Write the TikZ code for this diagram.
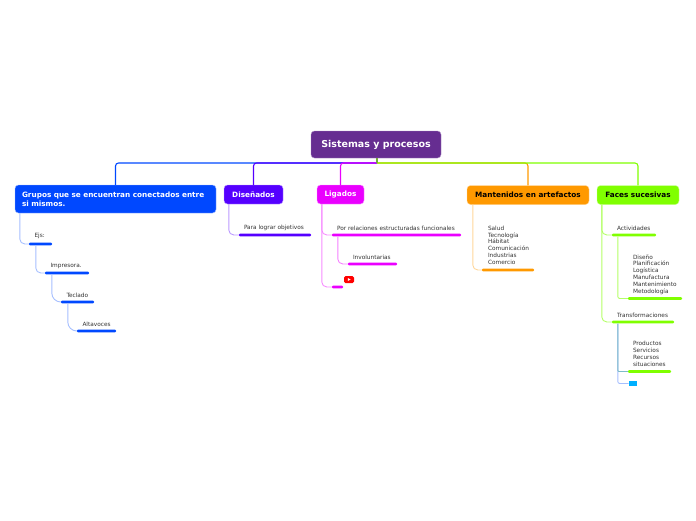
\documentclass[tikz,border=0pt]{standalone}
\usepackage{fontspec}
\setmainfont{DejaVu Sans}
\usetikzlibrary{positioning,calc}
\definecolor{titlePurple}{HTML}{662D91}
\definecolor{gruposBlue}{HTML}{0048FF}
\definecolor{disenoViolet}{HTML}{5500FF}
\definecolor{ligadoPink}{HTML}{EA00FF}
\definecolor{mantenOrange}{HTML}{FF9900}
\definecolor{facesLime}{HTML}{80FF00}
\definecolor{extraCyan}{HTML}{00B0FF}
\definecolor{leafText}{HTML}{333333}
\definecolor{mixedLink}{HTML}{7DBBC8}
\tikzset{
    topic/.style={rectangle, rounded corners=3.5pt, inner sep=0pt, align=left, font=\bfseries\fontsize{7.3}{9}\selectfont, minimum height=19pt},
    leafbar/.style={rectangle, rounded corners=1pt, inner sep=0pt, minimum height=2.8pt},
    leaflabel/.style={anchor=south west, inner sep=0pt, align=left, text=leafText, font=\fontsize{5.8}{6.9}\selectfont},
    branch/.style={line width=1.1pt, rounded corners=3pt},
    link/.style={line width=.9pt, rounded corners=5pt}
}
\begin{document}
\begin{tikzpicture}[x=1pt, y=-1pt]
\useasboundingbox (0,0) rectangle (696,520);

% Nodes
\node[topic, fill=titlePurple, draw=titlePurple!55!white, text=white, minimum width=130pt, minimum height=27pt, font=\bfseries\fontsize{9.5}{11}\selectfont] (title) at (376,144.5) {Sistemas y procesos};
\coordinate (hub) at (377,163);
\node[topic, fill=gruposBlue, draw=gruposBlue!40!white, text=white, minimum width=201pt, minimum height=28pt, text width=187pt] (grupos) at (115.5,199) {Grupos que se encuentran conectados entre\\si mismos.};
\node[topic, fill=disenoViolet, draw=disenoViolet!40!white, text=white, minimum width=59pt] (disenados) at (253.5,194.5) {Diseñados};
\node[topic, fill=ligadoPink, draw=ligadoPink!40!white, text=white, minimum width=47pt] (ligados) at (340.5,194.5) {Ligados};
\node[topic, fill=mantenOrange, draw=mantenOrange!40!white, text=black, minimum width=122pt] (mantenidos) at (528,195) {Mantenidos en artefactos};
\node[topic, fill=facesLime, draw=facesLime!40!white, text=black, minimum width=82pt] (faces) at (638,195) {Faces sucesivas};

% Leaf bars
\node[leafbar, fill=gruposBlue, minimum width=23pt] (ejsBar) at (40.5,244) {};
\node[leafbar, fill=gruposBlue, minimum width=44pt] (impresoraBar) at (67,273) {};
\node[leafbar, fill=gruposBlue, minimum width=33pt] (tecladoBar) at (77.5,302) {};
\node[leafbar, fill=gruposBlue, minimum width=39pt] (altavocesBar) at (96.5,331) {};
\node[leafbar, fill=disenoViolet, minimum width=72pt] (objetivosBar) at (275,235) {};
\node[leafbar, fill=ligadoPink, minimum width=129pt] (relacionesBar) at (396.5,235) {};
\node[leafbar, fill=ligadoPink, minimum width=49pt] (involBar) at (372.5,264) {};
\node[leafbar, fill=ligadoPink, minimum width=11pt] (videoBar) at (337.5,287) {};
\node[leafbar, fill=mantenOrange, minimum width=52pt] (saludBar) at (508,270) {};
\node[leafbar, fill=facesLime, minimum width=44pt] (activBar) at (634,235) {};
\node[leafbar, fill=facesLime, minimum width=54pt] (disenoBar) at (655,298.5) {};
\node[leafbar, fill=facesLime, minimum width=62pt] (transfBar) at (643,322) {};
\node[leafbar, fill=facesLime, minimum width=43pt] (productosBar) at (649.5,371.5) {};
\node[rectangle, inner sep=0pt, fill=extraCyan, minimum width=8.5pt, minimum height=5.5pt] (extraBox) at (633,383.5) {};
\node[rectangle, rounded corners=1.5pt, inner sep=0pt, fill=red, minimum width=10pt, minimum height=7pt] (video) at (349,279.5) {};
\fill[white] (347.8,278) -- (350.6,279.5) -- (347.8,281) -- cycle;

% Labels
\node[leaflabel] (ejs) at ([xshift=5.5pt,yshift=3pt]ejsBar.north west) {Ejs:};
\node[leaflabel] (impresora) at ([xshift=5.5pt,yshift=3pt]impresoraBar.north west) {Impresora.};
\node[leaflabel] (teclado) at ([xshift=5.5pt,yshift=2.5pt]tecladoBar.north west) {Teclado};
\node[leaflabel] (altavoces) at ([xshift=5.5pt,yshift=3pt]altavocesBar.north west) {Altavoces};
\node[leaflabel] (objetivos) at ([xshift=5pt,yshift=2.5pt]objetivosBar.north west) {Para lograr objetivos};
\node[leaflabel] (relaciones) at ([xshift=5pt,yshift=2.5pt]relacionesBar.north west) {Por relaciones estructuradas funcionales};
\node[leaflabel] (involuntarias) at ([xshift=5pt,yshift=3pt]involBar.north west) {Involuntarias};
\node[leaflabel] (salud) at ([xshift=6pt,yshift=3.5pt]saludBar.north west) {Salud\\Tecnología\\Hábitat\\Comunicación\\Industrias\\Comercio};
\node[leaflabel] (activ) at ([xshift=5pt,yshift=2.5pt]activBar.north west) {Actividades};
\node[leaflabel] (diseno) at ([xshift=5pt,yshift=2pt]disenoBar.north west) {Diseño\\Planificación\\Logística\\Manufactura\\Mantenimiento\\Metodología};
\node[leaflabel] (transf) at ([xshift=5pt,yshift=3pt]transfBar.north west) {Transformaciones};
\node[leaflabel] (productos) at ([xshift=5pt,yshift=3pt]productosBar.north west) {Productos\\Servicios\\Recursos\\situaciones};

% Branches
\draw[branch, gruposBlue] (hub) -| (grupos.north);
\draw[branch, disenoViolet] (hub) -| (disenados.north);
\draw[branch, ligadoPink] (hub) -| (ligados.north);
\draw[branch, mantenOrange] (hub) -| (mantenidos.north);
\draw[branch, facesLime] (hub) -| (faces.north);
\draw[line width=1.1pt, facesLime!60!titlePurple] (title.south -| hub) -- (hub);

% Links
\draw[link, gruposBlue!35!white] ([xshift=5pt]grupos.south west) |- (ejsBar.west);
\draw[link, gruposBlue!35!white] ([xshift=7pt]ejsBar.south west) |- (impresoraBar.west);
\draw[link, gruposBlue!35!white, rounded corners=9pt] ([xshift=7pt]impresoraBar.south west) |- (tecladoBar.west);
\draw[link, gruposBlue!35!white, rounded corners=9pt] ([xshift=7pt]tecladoBar.south west) |- (altavocesBar.west);
\draw[link, disenoViolet!40!white] ([xshift=5pt]disenados.south west) |- (objetivosBar.west);
\draw[link, ligadoPink!45!white] ([xshift=5pt]ligados.south west) |- (relacionesBar.west);
\draw[link, ligadoPink!45!white] ([xshift=5pt]ligados.south west) |- (videoBar.west);
\draw[link, ligadoPink!50!white] ([xshift=6pt]relacionesBar.south west) |- (involBar.west);
\draw[link, mantenOrange!40!white] ([xshift=6pt]mantenidos.south west) |- (saludBar.west);
\draw[link, facesLime!60!white] ([xshift=5pt]faces.south west) |- (activBar.west);
\draw[link, facesLime!60!white] ([xshift=5pt]faces.south west) |- (transfBar.west);
\draw[link, facesLime!60!white, rounded corners=2pt] ([xshift=6pt]activBar.south west) |- (disenoBar.west);
\draw[link, gruposBlue!35!white, rounded corners=2pt] ([xshift=6pt]transfBar.south west) |- (extraBox.west);
\draw[link, mixedLink, rounded corners=1pt] ([xshift=6pt]transfBar.south west) |- (productosBar.west);

\end{tikzpicture}
\end{document}
